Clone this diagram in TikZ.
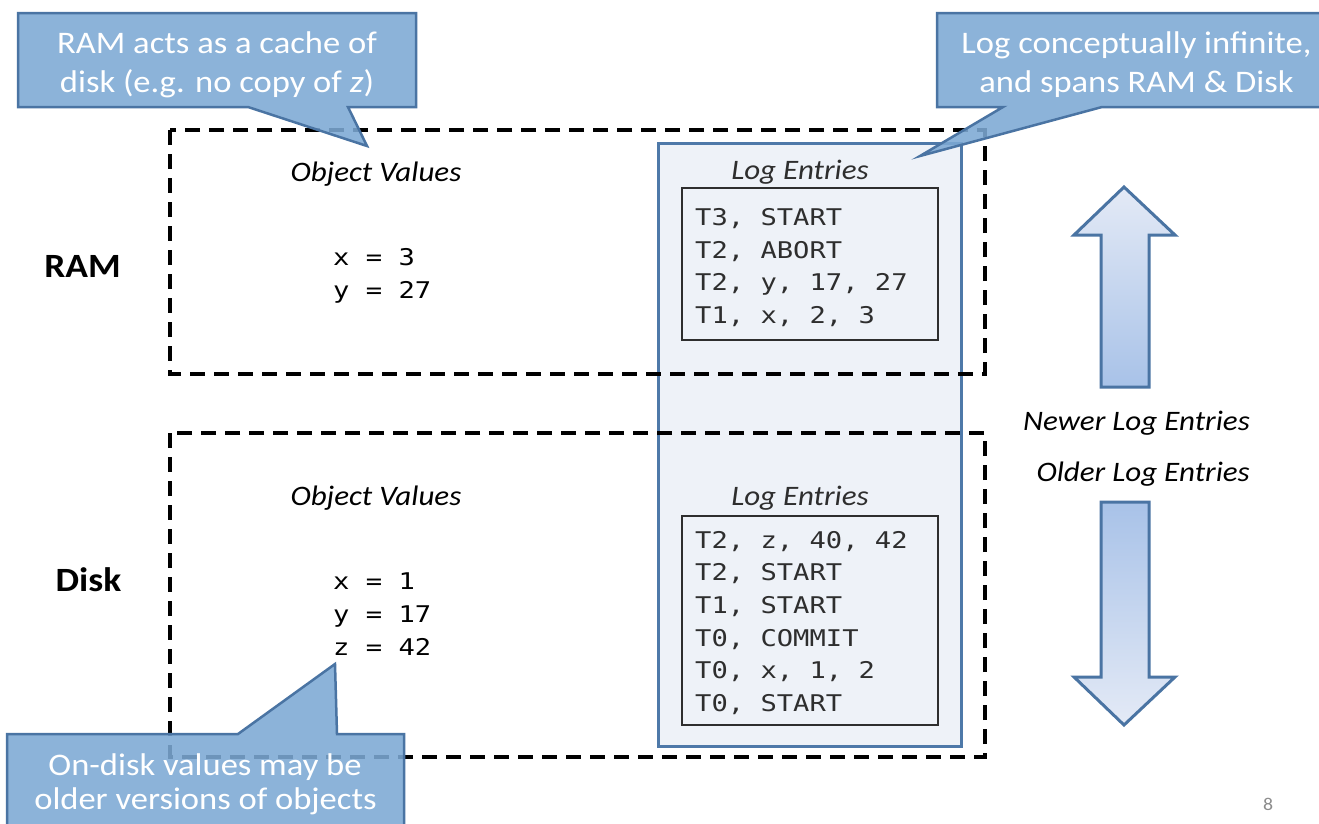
\documentclass[tikz,border=0pt]{standalone}
\usepackage{fontspec}
\setmainfont[FakeStretch=1.1]{Carlito}
\newfontfamily\entryfont[FakeStretch=1.18]{DejaVu Sans Mono}
\definecolor{calloutfill}{HTML}{7DA9D4}
\definecolor{calloutline}{HTML}{4A74A3}
\definecolor{logfill}{HTML}{EEF2F8}
\definecolor{logline}{HTML}{4E79A9}
\definecolor{entryline}{HTML}{2E2E2E}
\definecolor{arrowlight}{HTML}{E4EAF6}
\definecolor{arrowdark}{HTML}{A8C2E8}
\begin{document}
\begin{tikzpicture}[x=1pt,y=-1pt,
  dashbox/.style={draw=black, line width=3.5pt, dash pattern=on 15pt off 9pt},
  logcolumn/.style={draw=logline, fill=logfill, line width=3pt},
  entrybox/.style={draw=entryline, line width=2.8pt},
  entry/.style={anchor=base west, inner sep=0pt, text=entryline, font=\entryfont\fontsize{23}{30}\selectfont},
  value/.style={anchor=base west, inner sep=0pt, text=black, font=\entryfont\fontsize{23}{30}\selectfont},
  heading/.style={anchor=base, inner sep=0pt, font=\itshape\fontsize{28.2}{32}\selectfont},
  tier/.style={anchor=base, inner sep=0pt, font=\bfseries\fontsize{34}{40}\selectfont},
  callout/.style={fill=calloutfill, fill opacity=0.88, draw=calloutline, line width=2.5pt, line join=miter},
  calltext/.style={anchor=base, inner sep=0pt, text=white, font=\fontsize{31.4}{40}\selectfont},
  bigarrow/.style={draw=calloutline, line width=3pt, line join=miter}]
\useasboundingbox (0,0) rectangle (1319,823);
\fill[white] (0,0) rectangle (1319,823);
\clip (0,0) rectangle (1319,823);

% log column spanning both tiers
\draw[logcolumn] (658,143) rectangle (961,746);

% RAM and disk tiers
\draw[dashbox] (170,130) rectangle (985,374);
\draw[dashbox] (170,433) rectangle (985,757);

\node[tier] (ramlabel) at (82.5,277) {RAM};
\node[tier] (disklabel) at (88.5,591) {Disk};

% object values
\node[heading] (ramobj) at (376,181) {Object Values};
\node[heading] (diskobj) at (376,505) {Object Values};
\node[value] (ramx) at (333,265) {x = 3};
\node[value] (ramy) at (333,298) {y = 27};
\node[value] (diskx) at (333,589.5) {x = 1};
\node[value] (disky) at (333,622) {y = 17};
\node[value] (diskz) at (333,655) {z = 42};

% log entries
\node[heading, text=entryline] (ramloghead) at (800,179) {Log Entries};
\node[heading, text=entryline] (diskloghead) at (800,505) {Log Entries};
\draw[entrybox] (682,188) rectangle (938,340);
\draw[entrybox] (682,516) rectangle (938,725);
\foreach \t [count=\i] in {{T3, START},{T2, ABORT},{T2, y, 17, 27},{T1, x, 2, 3}}
  \node[entry] (ramentry\i) at (695,{225.5+32.7*(\i-1)}) {\t};
\foreach \t [count=\i] in {{T2, z, 40, 42},{T2, START},{T1, START},{T0, COMMIT},{T0, x, 1, 2},{T0, START}}
  \node[entry] (diskentry\i) at (695,{548+32.7*(\i-1)}) {\t};

% direction of the log
\path[bigarrow, top color=arrowlight, bottom color=arrowdark]
  (1124,187) -- (1175,235) -- (1149,235) -- (1149,387) -- (1101,387) -- (1101,235) -- (1074,235) -- cycle;
\path[bigarrow, top color=arrowdark, bottom color=arrowlight]
  (1101,502) -- (1149,502) -- (1149,677) -- (1175,677) -- (1124,725) -- (1074,677) -- (1101,677) -- cycle;
\node[heading, anchor=base east] (newer) at (1250,430.5) {Newer Log Entries};
\node[heading, anchor=base east] (older) at (1250,481.5) {Older Log Entries};

% callouts
\draw[callout] (18,13) -- (416,13) -- (416,107) -- (348,107) -- (367,146) -- (248,107) -- (18,107) -- cycle;
\node[calltext] (cacheA) at (217,53) {RAM acts as a cache of};
\node[calltext] (cacheB) at (217,92.5) {disk (e.g. no copy of \textit{z})};

\draw[callout] (937,13) -- (1340,13) -- (1340,107) -- (1102,107) -- (920,156) -- (1003,107) -- (937,107) -- cycle;
\node[calltext] (infA) at (1136.5,53) {Log conceptually infinite,};
\node[calltext] (infB) at (1136.5,92.5) {and spans RAM \& Disk};

\draw[callout] (7,734) -- (238,734) -- (335,664) -- (337,734) -- (404,734) -- (404,850) -- (7,850) -- cycle;
\node[calltext] (olderA) at (205,775) {On-disk values may be};
\node[calltext] (olderB) at (205.5,809.5) {older versions of objects};

% slide number
\node[anchor=base, inner sep=0pt, text=black!45, font=\fontsize{18}{20}\selectfont] (slideno) at (1268,810) {8};
\end{tikzpicture}
\end{document}
